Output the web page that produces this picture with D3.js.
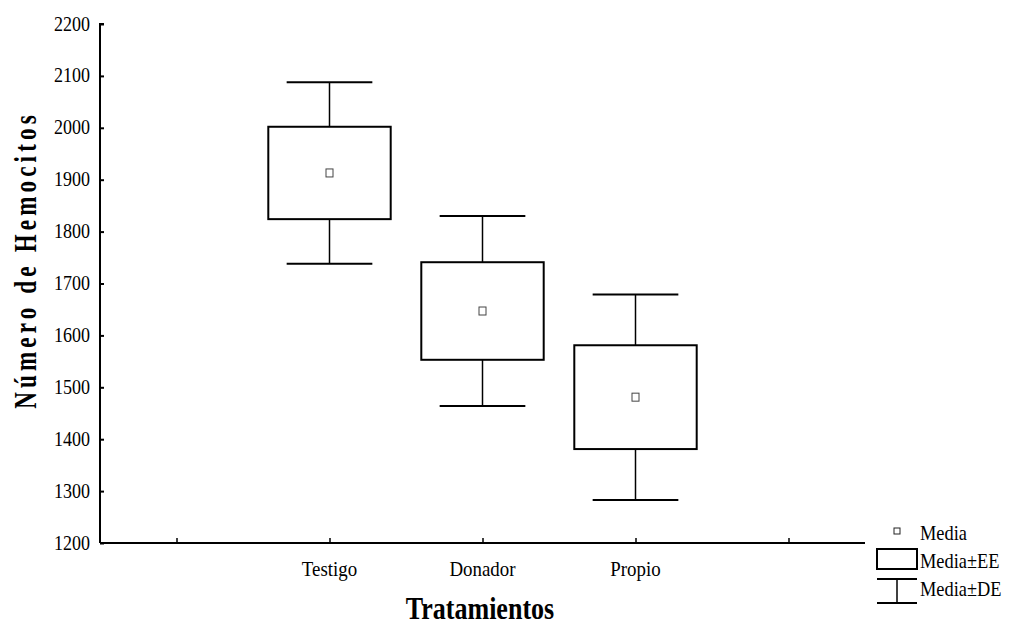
<!DOCTYPE html>
<html>
<head>
<meta charset="utf-8">
<script src="https://cdn.jsdelivr.net/npm/d3@7"></script>
<style>
  body { margin: 0; background: #fff; }
  text { font-family: "Liberation Serif", "Times New Roman", serif; fill: #000; }
</style>
</head>
<body>
<div id="chart"></div>
<script>
var categories = ["Testigo", "Donador", "Propio"];
var means = [1913, 1647, 1481];
var stdErr = [89, 94, 100];
var stdDev = [175, 183, 198];
var yTicks = [1200, 1300, 1400, 1500, 1600, 1700, 1800, 1900, 2000, 2100, 2200];
var legendLabels = ["Media", "Media±EE", "Media±DE"];

var data = categories.map(function (c, i) {
    return { name: c, mean: means[i], se: stdErr[i], sd: stdDev[i] };
});

var svgWidth = 1010, svgHeight = 627;
var svg = d3.select("#chart").append("svg")
    .attr("width", svgWidth)
    .attr("height", svgHeight);

// narrow Times look: squeeze text horizontally around its anchor point
function squeeze(sel, sx) {
    sel.attr("transform", function () {
        var t = d3.select(this);
        var px = +t.attr("x"), py = +t.attr("y");
        t.attr("x", 0).attr("y", 0);
        return "translate(" + px + "," + py + ") scale(" + sx + ",1)";
    });
}

// empty slots at both ends of the x axis
var slots = ["_a"].concat(categories).concat(["_b"]);
var x = d3.scalePoint().domain(slots).range([100, 865]).padding(0.5);
var y = d3.scaleLinear().domain([1200, 2200]).range([543, 24]);
var step = x.step();

// y axis
var yAxis = svg.append("g")
    .attr("transform", "translate(100,0)")
    .call(d3.axisRight(y).tickValues(yTicks).tickSize(4).tickFormat(""));
yAxis.select(".domain").attr("stroke-width", 2).attr("d", "M4,24H0V543");
yAxis.selectAll(".tick line").attr("stroke-width", 2);

svg.selectAll(".ylab")
    .data(yTicks)
    .enter().append("text")
    .attr("class", "ylab")
    .attr("x", 90)
    .attr("y", function (d) { return y(d) + 6.5; })
    .attr("text-anchor", "end")
    .style("font-size", "20px")
    .text(function (d) { return d; })
    .call(squeeze, 0.9);

// x axis
var xAxis = svg.append("g")
    .attr("transform", "translate(0,543)")
    .call(d3.axisTop(x).tickSize(5).tickFormat(""));
xAxis.select(".domain").attr("stroke-width", 2).attr("d", "M100,0H865");
xAxis.selectAll(".tick line").attr("stroke-width", 1.5);

svg.selectAll(".xlab")
    .data(categories)
    .enter().append("text")
    .attr("class", "xlab")
    .attr("x", function (d) { return x(d); })
    .attr("y", 576)
    .attr("text-anchor", "middle")
    .style("font-size", "21px")
    .text(function (d) { return d; })
    .call(squeeze, 0.9);

// axis titles
svg.append("text")
    .attr("x", 480)
    .attr("y", 619)
    .attr("text-anchor", "middle")
    .style("font-size", "31px")
    .style("font-weight", "bold")
    .text("Tratamientos")
    .call(squeeze, 0.84);

svg.append("text")
    .attr("transform", "translate(36,260) rotate(-90) scale(0.72,1)")
    .attr("text-anchor", "middle")
    .style("font-size", "32px")
    .style("font-weight", "bold")
    .style("letter-spacing", "5.8px")
    .text("Número de Hemocitos");

// boxes
var boxW = step * 0.8, capW = step * 0.56;
var g = svg.selectAll(".grp")
    .data(data)
    .enter().append("g")
    .attr("class", "grp");

g.append("line")
    .attr("x1", function (d) { return x(d.name); })
    .attr("x2", function (d) { return x(d.name); })
    .attr("y1", function (d) { return y(d.mean + d.sd); })
    .attr("y2", function (d) { return y(d.mean - d.sd); })
    .attr("stroke", "#000").attr("stroke-width", 1.5);

g.selectAll(".cap")
    .data(function (d) { return [d.mean + d.sd, d.mean - d.sd].map(function (v) { return { name: d.name, v: v }; }); })
    .enter().append("line")
    .attr("x1", function (d) { return x(d.name) - capW / 2; })
    .attr("x2", function (d) { return x(d.name) + capW / 2; })
    .attr("y1", function (d) { return y(d.v); })
    .attr("y2", function (d) { return y(d.v); })
    .attr("stroke", "#000").attr("stroke-width", 2);

g.append("rect")
    .attr("x", function (d) { return x(d.name) - boxW / 2; })
    .attr("y", function (d) { return y(d.mean + d.se); })
    .attr("width", boxW)
    .attr("height", function (d) { return y(d.mean - d.se) - y(d.mean + d.se); })
    .attr("fill", "#fff")
    .attr("stroke", "#000").attr("stroke-width", 2);

g.append("rect")
    .attr("x", function (d) { return x(d.name) - 3.5; })
    .attr("y", function (d) { return y(d.mean) - 4; })
    .attr("width", 7).attr("height", 8)
    .attr("fill", "#fff")
    .attr("stroke", "#444").attr("stroke-width", 1);

// legend
var lg = svg.append("g");
lg.append("rect").attr("x", 894).attr("y", 528).attr("width", 6).attr("height", 6)
    .attr("fill", "#fff").attr("stroke", "#222").attr("stroke-width", 1);
lg.append("rect").attr("x", 877).attr("y", 549).attr("width", 40).attr("height", 20)
    .attr("fill", "#fff").attr("stroke", "#000").attr("stroke-width", 2);
lg.append("line").attr("x1", 877).attr("x2", 917).attr("y1", 579).attr("y2", 579)
    .attr("stroke", "#000").attr("stroke-width", 2);
lg.append("line").attr("x1", 877).attr("x2", 917).attr("y1", 603).attr("y2", 603)
    .attr("stroke", "#000").attr("stroke-width", 2);
lg.append("line").attr("x1", 897).attr("x2", 897).attr("y1", 579).attr("y2", 603)
    .attr("stroke", "#000").attr("stroke-width", 1.5);
lg.selectAll(".ltxt")
    .data(legendLabels)
    .enter().append("text")
    .attr("class", "ltxt")
    .attr("x", 920)
    .attr("y", function (d, i) { return 540 + i * 28; })
    .style("font-size", "20px")
    .text(function (d) { return d; })
    .call(squeeze, 0.92);
</script>
</body>
</html>
